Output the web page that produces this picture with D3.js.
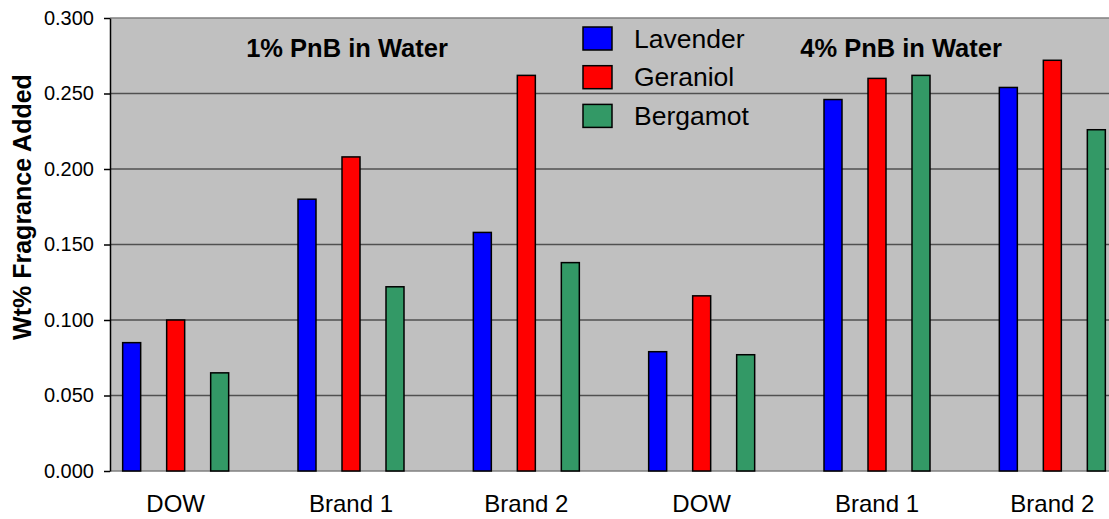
<!DOCTYPE html>
<html>
<head>
<meta charset="utf-8">
<script src="https://cdn.jsdelivr.net/npm/d3@7"></script>
<style>
  body { margin: 0; background: #fff; }
  text { font-family: Arial, "Liberation Sans", sans-serif; }
</style>
</head>
<body>
<div id="chart"></div>
<script>
var categories = ["DOW", "Brand 1", "Brand 2", "DOW", "Brand 1", "Brand 2"];
var series = ["Lavender", "Geraniol", "Bergamot"];
var lavender = [0.085, 0.180, 0.158, 0.079, 0.246, 0.254];
var geraniol = [0.100, 0.208, 0.262, 0.116, 0.260, 0.272];
var bergamot = [0.065, 0.122, 0.138, 0.077, 0.262, 0.226];
var colours = ["#0000ff", "#ff0000", "#339966"];
var yTicks = [0, 0.05, 0.10, 0.15, 0.20, 0.25, 0.30];
var notes = [{ text: "1% PnB in Water", at: 1 }, { text: "4% PnB in Water", at: 4.16 }];

var values = [lavender, geraniol, bergamot];

var width = 1109, height = 519;
var plotLeft = 110, plotRight = 1109, plotTop = 18, plotBottom = 471;

var svg = d3.select('#chart').append('svg')
  .attr('width', width)
  .attr('height', height);

// category bands run past the right edge (the reference is cropped there)
var x = d3.scaleBand()
  .domain(d3.range(categories.length))
  .range([88, 1140]);

var xs = d3.scalePoint()
  .domain(series)
  .range([-44, 44]);

var y = d3.scaleLinear()
  .domain([0, 0.3])
  .range([plotBottom, plotTop]);

svg.append('rect')
  .attr('x', plotLeft).attr('y', plotTop)
  .attr('width', plotRight - plotLeft).attr('height', plotBottom - plotTop)
  .style('fill', '#c0c0c0');

// gridlines
svg.selectAll('.grid')
  .data(yTicks.filter(function (t) { return t > 0 && t < 0.3; }))
  .enter().append('line')
  .attr('class', 'grid')
  .attr('x1', plotLeft).attr('x2', plotRight)
  .attr('y1', function (d) { return y(d); })
  .attr('y2', function (d) { return y(d); })
  .style('stroke', '#505050')
  .style('stroke-width', 1.5);

svg.append('line')
  .attr('x1', plotLeft).attr('x2', plotRight)
  .attr('y1', y(0.3)).attr('y2', y(0.3))
  .style('stroke', '#808080').style('stroke-width', 1.5);

svg.append('line')
  .attr('x1', plotLeft).attr('x2', plotRight)
  .attr('y1', y(0)).attr('y2', y(0))
  .style('stroke', '#808080').style('stroke-width', 1.5);

// bars
var barW = 18;
series.forEach(function (s, si) {
  svg.selectAll('.bar-' + si)
    .data(values[si])
    .enter().append('rect')
    .attr('class', 'bar-' + si)
    .attr('x', function (d, i) { return x(i) + x.bandwidth() / 2 + xs(s) - barW / 2; })
    .attr('y', function (d) { return y(d); })
    .attr('width', barW)
    .attr('height', function (d) { return y(0) - y(d); })
    .style('fill', colours[si])
    .style('stroke', '#000')
    .style('stroke-width', 1.5);
});

// y axis
var yAxis = svg.append('g')
  .attr('transform', 'translate(' + plotLeft + ',0)')
  .call(d3.axisLeft(y).tickValues(yTicks).tickFormat(d3.format('.3f')).tickSize(6).tickPadding(10).tickSizeOuter(0));
yAxis.select('.domain').style('stroke', '#000').style('stroke-width', 1.5);
yAxis.selectAll('.tick line').style('stroke', '#000').style('stroke-width', 1.5);
yAxis.selectAll('.tick text')
  .style('font-size', '20px')
  .style('fill', '#000')
  .style('font-family', 'Arial, "Liberation Sans", sans-serif');

// category labels
svg.selectAll('.cat')
  .data(categories)
  .enter().append('text')
  .attr('class', 'cat')
  .attr('x', function (d, i) { return x(i) + x.bandwidth() / 2; })
  .attr('y', 512)
  .style('text-anchor', 'middle')
  .style('font-size', '24px')
  .text(function (d) { return d; });

// y title
svg.append('text')
  .attr('transform', 'translate(31,207) rotate(-90)')
  .style('text-anchor', 'middle')
  .style('font-size', '25px')
  .style('font-weight', 'bold')
  .text('Wt% Fragrance Added');

// annotations
svg.selectAll('.note')
  .data(notes)
  .enter().append('text')
  .attr('class', 'note')
  .attr('x', function (d) { return x(0) + x.bandwidth() * (d.at + 0.5) - 4; })
  .attr('y', 57)
  .style('text-anchor', 'middle')
  .style('font-size', '25.5px')
  .style('font-weight', 'bold')
  .text(function (d) { return d.text; });

// legend
var legend = svg.selectAll('.legend')
  .data(series)
  .enter().append('g')
  .attr('class', 'legend')
  .attr('transform', function (d, i) { return 'translate(583,' + (27 + i * 38.7) + ')'; });

legend.append('rect')
  .attr('width', 29).attr('height', 23)
  .style('fill', function (d, i) { return colours[i]; })
  .style('stroke', '#000')
  .style('stroke-width', 1.5);

legend.append('text')
  .attr('x', 51).attr('y', 20.5)
  .style('font-size', '26.5px')
  .text(function (d) { return d; });
</script>
</body>
</html>
